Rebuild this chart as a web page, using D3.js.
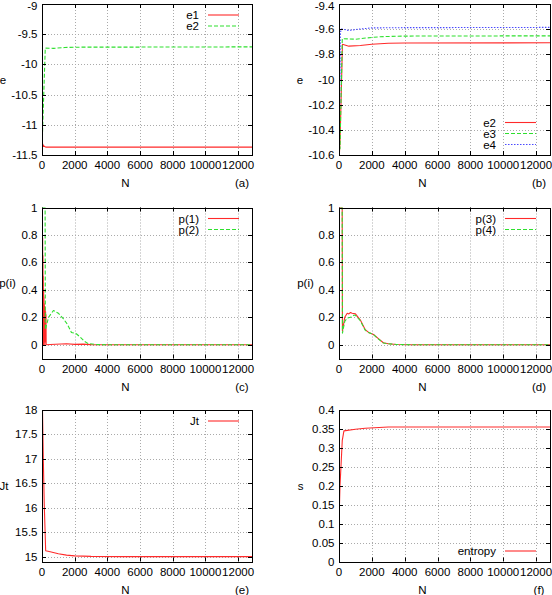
<!DOCTYPE html>
<html>
<head>
<meta charset="utf-8">
<script src="https://cdn.jsdelivr.net/npm/d3@7"></script>
<style>
body { margin: 0; background: #fff; }
text { font-family: "Liberation Sans", Arial, sans-serif; font-size: 11.5px; fill: #000; }
</style>
</head>
<body>
<div id="chart"></div>
<script>
// --- 1. DATA ---
var N_MAX = 12850;
var xTicks = [0, 2000, 4000, 6000, 8000, 10000, 12000];

// (a) energies e1, e2
var aN1 = [0, 8, 15, 25, 35, 50, 70, 90, 120, 160, 250, 500, 1000, 3000, 12850];
var aE1 = [-11.1, -11.25, -11.3, -11.33, -11.31, -11.35, -11.33, -11.36, -11.35, -11.36, -11.37, -11.37, -11.37, -11.37, -11.37];
var aN2 = [0, 10, 25, 40, 200, 700, 1400, 2000, 12850];
var aE2 = [-9.0, -10.3, -11.2, -11.05, -9.73, -9.735, -9.72, -9.715, -9.71];
var aTicks = [-11.5, -11, -10.5, -10, -9.5, -9];

// (b) energies e2, e3, e4
var bN2 = [0, 60, 120, 210, 600, 1300, 2000, 3000, 4000, 12850];
var bE2 = [-10.65, -10.5, -10.2, -9.72, -9.735, -9.73, -9.72, -9.712, -9.71, -9.708];
var bN3 = [0, 30, 60, 100, 150, 200, 1000, 1500, 2500, 4000, 12850];
var bE3 = [-10.65, -10.4, -10.55, -10.3, -10.0, -9.675, -9.68, -9.672, -9.66, -9.655, -9.653];
var bN4 = [0, 5, 10, 15, 20, 25, 30, 40, 50, 60, 80, 120, 200, 600, 1200, 2000, 4000, 12850];
var bE4 = [-9.4, -10.3, -9.6, -10.1, -9.8, -10.45, -9.9, -10.2, -9.7, -10.0, -9.65, -9.6, -9.6, -9.61, -9.6, -9.59, -9.588, -9.586];
var bTicks = [-10.6, -10.4, -10.2, -10, -9.8, -9.6, -9.4];

// (c) probabilities p(1), p(2)
var cN1 = [0, 10, 20, 30, 40, 50, 60, 70, 80, 90, 100, 110, 120, 130, 140, 150, 160, 170, 180, 190, 200, 210, 220, 230, 245, 255, 500, 1500, 2000, 2500, 3000, 4000, 12850];
var cP1 = [1.0, 0.1, 0.8, 0.05, 0.78, 0.02, 0.65, 0.05, 0.5, 0.0, 0.4, 0.06, 0.35, 0.02, 0.3, 0.05, 0.28, 0.0, 0.26, 0.04, 0.25, 0.02, 0.24, 0.05, 0.22, 0.0, 0.002, 0.008, 0.003, 0.005, 0.001, 0.0, 0.0];
var cN2 = [0, 190, 205, 250, 400, 700, 1000, 1300, 1550, 1800, 2100, 2350, 2600, 2800, 3300, 4000, 12850];
var cP2 = [1.0, 1.0, 0.11, 0.13, 0.2, 0.25, 0.23, 0.19, 0.15, 0.09, 0.08, 0.055, 0.025, 0.01, 0.002, 0.0, 0.0];

// (d) probabilities p(3), p(4)
var dN3 = [0, 3, 195, 210, 350, 500, 600, 700, 800, 1000, 1300, 1600, 1800, 2100, 2400, 2700, 3000, 3500, 4500, 12850];
var dP3 = [0.3, 1.0, 1.0, 0.1, 0.2, 0.23, 0.225, 0.235, 0.23, 0.225, 0.18, 0.11, 0.09, 0.075, 0.045, 0.015, 0.008, 0.002, 0.0, 0.0];
var dN4 = [0, 3, 195, 210, 350, 500, 700, 900, 1000, 1300, 1600, 1800, 2100, 2400, 2700, 3000, 3500, 4500, 12850];
var dP4 = [0.31, 1.0, 1.0, 0.085, 0.17, 0.195, 0.2, 0.215, 0.215, 0.175, 0.105, 0.09, 0.075, 0.042, 0.013, 0.007, 0.002, 0.0, 0.0];
var pTicks = [0, 0.2, 0.4, 0.6, 0.8, 1];

// (e) Jt
var eN = [0, 30, 80, 140, 225, 500, 1000, 1500, 2000, 3000, 5000, 12850];
var eJt = [18.5, 18.0, 17.0, 16.05, 15.12, 15.1, 15.06, 15.03, 15.015, 15.005, 15.0, 15.0];
var eTicks = [15, 15.5, 16, 16.5, 17, 17.5, 18];

// (f) entropy
var fN = [0, 60, 120, 200, 300, 1000, 1600, 3000, 12850];
var fS = [0.1, 0.2, 0.25, 0.32, 0.345, 0.349, 0.352, 0.355, 0.355];
var fTicks = [0, 0.05, 0.1, 0.15, 0.2, 0.25, 0.3, 0.35, 0.4];

// --- 2. STYLES & LAYOUT ---
var styles = {
    red:   { stroke: "#ff2a2a", dash: null },
    green: { stroke: "#2ee02e", dash: "4,2" },
    blue:  { stroke: "#4a4aff", dash: "1.5,1.5" }
};

var panels = [
    { x0: 42,  x1: 252, y0: 4,     y1: 155,   yDomain: [-11.5, -9], yTicks: aTicks, ylabel: "e",    ylx: 3,     tag: "(a)", legend: "top",
      series: [{ name: "e1", n: aN1, v: aE1, style: "red" }, { name: "e2", n: aN2, v: aE2, style: "green" }] },
    { x0: 339, x1: 550, y0: 4,     y1: 155,   yDomain: [-10.6, -9.4], yTicks: bTicks, ylabel: "e",  ylx: 300,   tag: "(b)", legend: "bottom",
      series: [{ name: "e2", n: bN2, v: bE2, style: "red" }, { name: "e3", n: bN3, v: bE3, style: "green" }, { name: "e4", n: bN4, v: bE4, style: "blue" }] },
    { x0: 42,  x1: 252, y0: 207.5, y1: 358.5, yDomain: [-0.1, 1], yTicks: pTicks, ylabel: "p(i)",  ylx: 7.5,   tag: "(c)", legend: "top",
      series: [{ name: "p(1)", n: cN1, v: cP1, style: "red" }, { name: "p(2)", n: cN2, v: cP2, style: "green" }] },
    { x0: 339, x1: 550, y0: 207.5, y1: 358.5, yDomain: [-0.1, 1], yTicks: pTicks, ylabel: "p(i)",  ylx: 305.5, tag: "(d)", legend: "top",
      series: [{ name: "p(3)", n: dN3, v: dP3, style: "red" }, { name: "p(4)", n: dN4, v: dP4, style: "green" }] },
    { x0: 42,  x1: 252, y0: 410,   y1: 561.5, yDomain: [14.9, 18], yTicks: eTicks, ylabel: "Jt",  ylx: 4,     tag: "(e)", legend: "top",
      series: [{ name: "Jt", n: eN, v: eJt, style: "red" }] },
    { x0: 339, x1: 550, y0: 410,   y1: 561.5, yDomain: [0, 0.4], yTicks: fTicks, ylabel: "s",     ylx: 300.5, tag: "(f)", legend: "bottom",
      series: [{ name: "entropy", n: fN, v: fS, style: "red" }] }
];

var svg = d3.select("#chart").append("svg")
    .attr("width", 552)
    .attr("height", 595);

var fmt = function(d) { return String(+d.toFixed(3)); };

// --- 3. DRAW EACH PANEL ---
panels.forEach(function(p, pi) {
    var x = d3.scaleLinear().domain([0, N_MAX]).range([p.x0, p.x1]);
    var y = d3.scaleLinear().domain(p.yDomain).range([p.y1, p.y0]);
    var g = svg.append("g");

    // grid
    g.selectAll(".gx").data(xTicks.filter(function(t) { return t > 0; })).enter().append("line")
        .attr("x1", function(d) { return Math.round(x(d)) + 0.5; })
        .attr("x2", function(d) { return Math.round(x(d)) + 0.5; })
        .attr("y1", p.y0).attr("y2", p.y1)
        .attr("stroke", "#aaa").attr("stroke-dasharray", "1,2");
    g.selectAll(".gy").data(p.yTicks).enter().append("line")
        .attr("x1", p.x0).attr("x2", p.x1)
        .attr("y1", function(d) { return Math.round(y(d)) + 0.5; })
        .attr("y2", function(d) { return Math.round(y(d)) + 0.5; })
        .attr("stroke", "#aaa").attr("stroke-dasharray", "1,2");

    // series (clipped to plot area)
    var clipId = "clip" + pi;
    svg.append("clipPath").attr("id", clipId).append("rect")
        .attr("x", p.x0).attr("y", p.y0)
        .attr("width", p.x1 - p.x0).attr("height", p.y1 - p.y0);
    var line = d3.line().x(function(d) { return x(d[0]); }).y(function(d) { return y(d[1]); });
    var lines = g.append("g").attr("clip-path", "url(#" + clipId + ")");
    p.series.forEach(function(s) {
        lines.append("path")
            .datum(d3.zip(s.n, s.v))
            .attr("d", line)
            .attr("fill", "none")
            .attr("stroke", styles[s.style].stroke)
            .attr("stroke-width", 1.1)
            .attr("stroke-dasharray", styles[s.style].dash)
            .attr("stroke-linejoin", "round");
    });

    // border
    g.append("rect")
        .attr("x", Math.round(p.x0) + 0.5).attr("y", Math.round(p.y0) + 0.5)
        .attr("width", Math.round(p.x1 - p.x0)).attr("height", Math.round(p.y1 - p.y0))
        .attr("fill", "none").attr("stroke", "#000");

    // ticks (inward, mirrored)
    xTicks.forEach(function(t) {
        var xx = Math.round(x(t)) + 0.5;
        g.append("line").attr("x1", xx).attr("x2", xx).attr("y1", p.y1).attr("y2", p.y1 - 4).attr("stroke", "#000");
        g.append("line").attr("x1", xx).attr("x2", xx).attr("y1", p.y0).attr("y2", p.y0 + 4).attr("stroke", "#000");
        g.append("text").attr("x", x(t)).attr("y", p.y1 + 10).attr("dy", "0.35em")
            .attr("text-anchor", "middle").text(fmt(t));
    });
    p.yTicks.forEach(function(t) {
        var yy = Math.round(y(t)) + 0.5;
        g.append("line").attr("x1", p.x0).attr("x2", p.x0 + 4).attr("y1", yy).attr("y2", yy).attr("stroke", "#000");
        g.append("line").attr("x1", p.x1).attr("x2", p.x1 - 4).attr("y1", yy).attr("y2", yy).attr("stroke", "#000");
        // keep the top label inside the page
        g.append("text").attr("x", p.x0 - 4.5).attr("y", Math.max(y(t), 5.5)).attr("dy", "0.35em")
            .attr("text-anchor", "end").text(fmt(t));
    });

    // axis labels and tag
    g.append("text").attr("x", p.x0 + 83.5).attr("y", p.y1 + 28).attr("dy", "0.35em")
        .attr("text-anchor", "middle").text("N");
    g.append("text").attr("x", p.x0 + 200).attr("y", p.y1 + 28).attr("dy", "0.35em")
        .attr("text-anchor", "middle").text(p.tag);
    g.append("text").attr("x", p.ylx).attr("y", (p.y0 + p.y1) / 2).attr("dy", "0.35em")
        .attr("text-anchor", "middle").text(p.ylabel);

    // legend
    var count = p.series.length;
    p.series.forEach(function(s, i) {
        var ly = p.legend === "top" ? p.y0 + 11 + i * 11 : p.y1 - 10.5 - (count - 1 - i) * 11;
        g.append("text").attr("x", p.x0 + 157).attr("y", ly).attr("dy", "0.35em")
            .attr("text-anchor", "end").text(s.name);
        g.append("line")
            .attr("x1", p.x0 + 166).attr("x2", p.x0 + 197)
            .attr("y1", ly).attr("y2", ly)
            .attr("stroke", styles[s.style].stroke)
            .attr("stroke-width", 1.1)
            .attr("stroke-dasharray", styles[s.style].dash);
    });
});
</script>
</body>
</html>
